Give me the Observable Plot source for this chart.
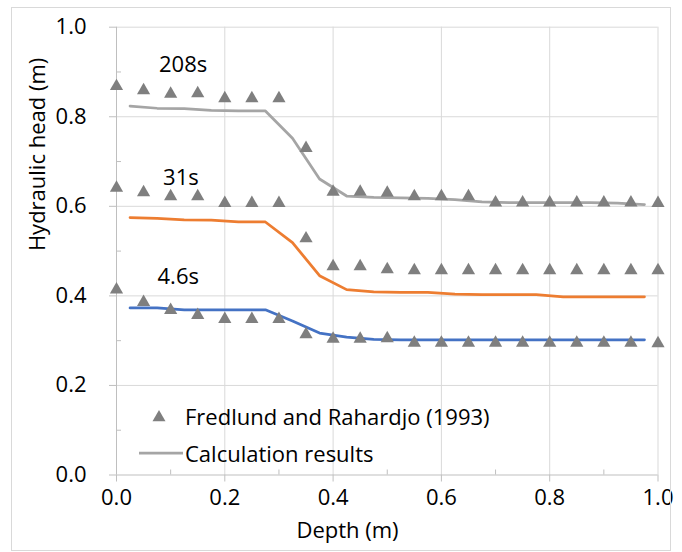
<!DOCTYPE html>
<html>
<head>
<meta charset="utf-8">
<script src="https://cdn.jsdelivr.net/npm/d3@7"></script>
<script src="https://cdn.jsdelivr.net/npm/@observablehq/plot@0.6"></script>
<style>
  html, body { margin: 0; padding: 0; background: #fff; }
  #wrap { position: relative; width: 682px; height: 552px; font-family: "Open Sans", sans-serif; }
  #border { position: absolute; left: 11px; top: 7px; width: 660px; height: 544px; border: 1px solid #d9d9d9; box-sizing: border-box; pointer-events: none; }
  #legend { position: absolute; left: 136px; top: 397px; font-size: 22px; color: #000; line-height: 36px; }
  #legend .row { display: flex; align-items: center; height: 37px; }
  #legend svg { width: 48px; height: 20px; margin-right: 1px; }
</style>
</head>
<body>
<div id="wrap">
  <div id="chart"></div>
  <div id="border"></div>
  <div id="legend"></div>
</div>
<script>
// Observed data (Fredlund and Rahardjo, 1993)
const depthObs = [0, 0.05, 0.1, 0.15, 0.2, 0.25, 0.3, 0.35, 0.4, 0.45, 0.5, 0.55, 0.6, 0.65, 0.7, 0.75, 0.8, 0.85, 0.9, 0.95, 1.0];
const obs208 = [0.868, 0.859, 0.851, 0.852, 0.841, 0.841, 0.841, 0.730, 0.632, 0.632, 0.630, 0.622, 0.622, 0.622, 0.608, 0.608, 0.608, 0.608, 0.608, 0.608, 0.607];
const obs31  = [0.641, 0.631, 0.622, 0.622, 0.607, 0.607, 0.607, 0.528, 0.466, 0.466, 0.459, 0.457, 0.457, 0.457, 0.457, 0.457, 0.457, 0.457, 0.457, 0.457, 0.457];
const obs46  = [0.414, 0.386, 0.368, 0.357, 0.348, 0.348, 0.348, 0.314, 0.304, 0.304, 0.305, 0.295, 0.295, 0.295, 0.295, 0.295, 0.295, 0.295, 0.295, 0.295, 0.294];

// Calculation results
const depthCalc = [0.025, 0.075, 0.125, 0.175, 0.225, 0.275, 0.325, 0.375, 0.425, 0.475, 0.525, 0.575, 0.625, 0.675, 0.725, 0.775, 0.825, 0.875, 0.925, 0.975];
const calc208 = [0.824, 0.819, 0.818, 0.814, 0.813, 0.813, 0.752, 0.661, 0.623, 0.620, 0.619, 0.618, 0.615, 0.610, 0.608, 0.608, 0.608, 0.608, 0.607, 0.604];
const calc31  = [0.575, 0.573, 0.570, 0.569, 0.565, 0.565, 0.519, 0.445, 0.414, 0.409, 0.408, 0.408, 0.404, 0.403, 0.403, 0.403, 0.398, 0.398, 0.398, 0.398];
const calc46  = [0.373, 0.373, 0.369, 0.369, 0.369, 0.369, 0.344, 0.317, 0.308, 0.303, 0.302, 0.302, 0.302, 0.302, 0.302, 0.302, 0.302, 0.302, 0.302, 0.302];

const seriesNames = ["208s", "31s", "4.6s"];
const seriesColors = ["#a5a5a5", "#ed7d31", "#4472c4"];

// Time labels (data-space anchor positions)
const labelText = ["208s", "31s", "4.6s"];
const labelX = [0.123, 0.119, 0.114];
const labelY = [0.915, 0.663, 0.443];

const majorTicks = [0, 0.2, 0.4, 0.6, 0.8, 1.0];
const minorTicks = [0.1, 0.3, 0.5, 0.7, 0.9];
const gridTicks = [0.2, 0.4, 0.6, 0.8, 1.0];

const legendLabels = ["Fredlund and Rahardjo (1993)", "Calculation results"];
const xTitle = "Depth (m)";
const yTitle = "Hydraulic head (m)";

// Build tables
const obsSets = [obs208, obs31, obs46];
const calcSets = [calc208, calc31, calc46];
const obs = obsSets.flatMap((vals, s) => depthObs.map((d, i) => ({depth: d, head: vals[i], series: seriesNames[s]})));
const calc = calcSets.flatMap((vals, s) => depthCalc.map((d, i) => ({depth: d, head: vals[i], series: seriesNames[s]})));
const labels = labelText.map((t, i) => ({text: t, x: labelX[i], y: labelY[i]}));

const W = 682, H = 552;
const mL = 116, mR = 24.5, mT = 26.7, mB = 77.5;
const fw = W - mL - mR, fh = H - mT - mB;
const axisColor = "#bfbfbf";
const gridColor = "#d9d9d9";

const chart = Plot.plot({
  width: W,
  height: H,
  marginLeft: mL,
  marginRight: mR,
  marginTop: mT,
  marginBottom: mB,
  style: {fontFamily: "'Open Sans', sans-serif", fontSize: "22px", color: "#000", background: "transparent"},
  x: {domain: [0, 1], axis: null},
  y: {domain: [0, 1], axis: null},
  color: {domain: seriesNames, range: seriesColors},
  marks: [
    Plot.gridX(gridTicks, {stroke: gridColor, strokeOpacity: 1, strokeWidth: 1}),
    Plot.gridY(gridTicks, {stroke: gridColor, strokeOpacity: 1, strokeWidth: 1}),
    Plot.ruleX([0], {stroke: axisColor, strokeWidth: 1}),
    Plot.ruleY([0], {stroke: axisColor, strokeWidth: 1}),
    // major ticks (outside)
    Plot.tickY(majorTicks, {y: d => d, insetLeft: -7, insetRight: fw, stroke: axisColor}),
    Plot.tickX(majorTicks, {x: d => d, insetTop: fh, insetBottom: -7, stroke: axisColor}),
    // minor ticks (inside)
    Plot.tickY(minorTicks, {y: d => d, insetRight: fw - 5, stroke: axisColor}),
    Plot.tickX(minorTicks, {x: d => d, insetTop: fh - 5, stroke: axisColor}),
    // tick labels
    Plot.axisY({ticks: majorTicks, tickSize: 0, tickPadding: 30, tickFormat: d3.format(".1f"), label: null, fontSize: 22}),
    Plot.axisX({ticks: majorTicks, tickSize: 0, tickPadding: 14, tickFormat: d3.format(".1f"), label: null, fontSize: 22}),
    // axis titles
    Plot.text([xTitle], {frameAnchor: "bottom", dy: 63, dx: -39.75, fontSize: 22, fill: "#000"}),
    Plot.text([yTitle], {frameAnchor: "left", rotate: -90, dx: -79, fontSize: 22, fill: "#000"}),
    // calculation lines
    Plot.line(calc, {x: "depth", y: "head", z: "series", stroke: "series", strokeWidth: 2.75, strokeLinejoin: "round"}),
    // observed triangles
    Plot.dot(obs, {x: "depth", y: "head", symbol: "triangle", r: 4.9, fill: "#7f7f7f", stroke: "none"}),
    // time labels
    Plot.text(labels, {x: "x", y: "y", text: "text", fontSize: 22, fill: "#000"})
  ]
});
document.getElementById("chart").appendChild(chart);

// Legend overlay
const legend = document.getElementById("legend");
legend.innerHTML =
  `<div class="row"><svg viewBox="0 0 48 20"><path d="M23 4 L29.5 15.3 L16.5 15.3 Z" fill="#7f7f7f"/></svg><span>${legendLabels[0]}</span></div>` +
  `<div class="row"><svg viewBox="0 0 48 20"><line x1="3" y1="10" x2="47" y2="10" stroke="#a5a5a5" stroke-width="2.75"/></svg><span>${legendLabels[1]}</span></div>`;
</script>
</body>
</html>
